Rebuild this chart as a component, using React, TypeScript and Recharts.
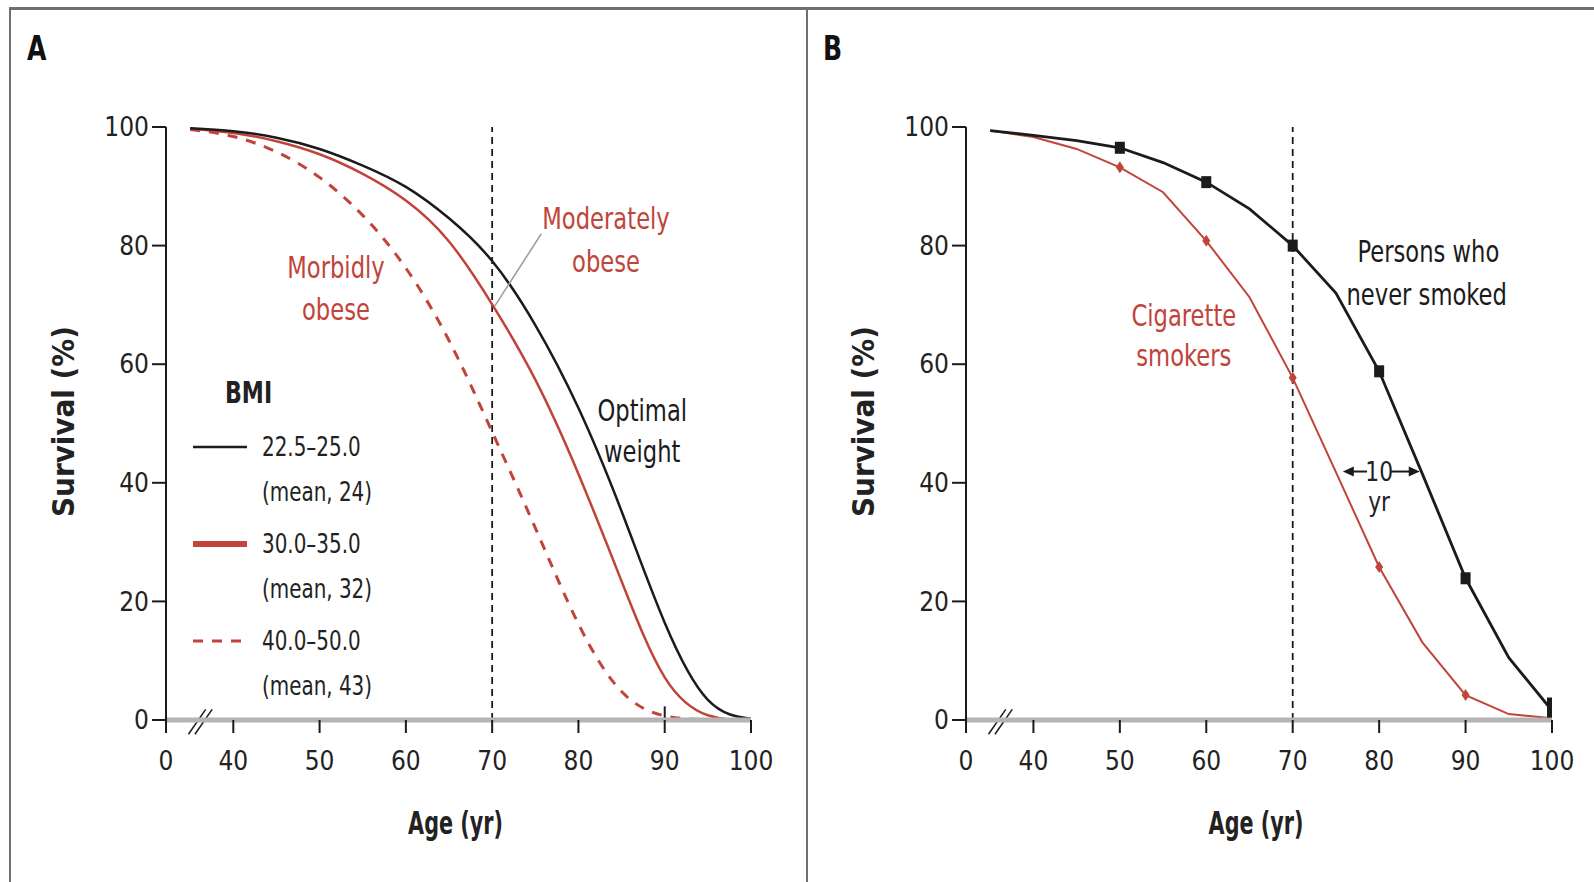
import React from "react";
import {
  LineChart,
  Line,
  XAxis,
  YAxis,
  ReferenceLine,
  ReferenceDot,
  Legend,
} from "recharts";

const FONT = '"Liberation Sans Narrow", "DejaVu Sans Condensed", "Liberation Sans", sans-serif';
const INK = "#1b1b1b";
const RED = "#c1443a";
const FRAME = "#707070";

const ages = [35, 40, 45, 50, 55, 60, 65, 70, 75, 80, 85, 90, 95, 100];

// panel A: survival (%) by BMI group
const optimalBmi = [99.8, 99.3, 98.2, 96.3, 93.5, 89.9, 84.6, 77.4, 66.6, 52.6, 35.2, 16.4, 3.4, 0.2];
const moderateBmi = [99.7, 99.0, 97.6, 95.4, 92.1, 87.6, 80.7, 70.1, 57.4, 41.5, 23.4, 7.2, 0.8, 0];
const morbidBmi = [99.6, 98.4, 95.8, 91.5, 85.1, 76.2, 64.0, 48.6, 32.4, 16.2, 4.8, 0.7, 0.1, 0];

// panel B: survival (%) by smoking status
const neverSmoked = [99.4, 98.6, 97.7, 96.5, 94.0, 90.7, 86.2, 80.0, 72.0, 58.8, 41.5, 23.9, 10.5, 1.6];
const smokers = [99.4, 98.3, 96.3, 93.2, 89.0, 80.8, 71.3, 57.7, 41.8, 25.8, 13.1, 4.2, 1.0, 0.3];
const neverMarked = [50, 60, 70, 80, 90, 100];
const smokerMarked = [50, 60, 70, 80, 90];

const ageTicks = [40, 50, 60, 70, 80, 90, 100];
const survivalTicks = [0, 20, 40, 60, 80, 100];
const axisBreak = 32.2; // the axis is broken; this point is labelled "0"

const bmiRanges = ["22.5–25.0", "30.0–35.0", "40.0–50.0"];
const bmiMeans = ["(mean, 24)", "(mean, 32)", "(mean, 43)"];
const bmiStyles = [
  { color: INK, width: 2.5, dash: undefined },
  { color: RED, width: 6, dash: undefined },
  { color: RED, width: 3, dash: "10 9" },
];

const tickStyle = { fill: "#222", fontSize: 26, fontFamily: FONT };

function yTitle(props: any) {
  const { x, y, height } = props.viewBox;
  const cx = x - 43;
  const cy = y + height / 2 - 2;
  return (
    <text
      x={cx}
      y={cy}
      transform={`rotate(-90, ${cx}, ${cy})`}
      textAnchor="middle"
      dominantBaseline="central"
      fontFamily={FONT}
      fontWeight="bold"
      fontSize={31}
      fill="#222"
    >
      Survival (%)
    </text>
  );
}

function xTitle(props: any) {
  const { x, y, width } = props.viewBox;
  const cx = x + width / 2 - 3;
  const cy = y + 103;
  return (
    <text
      transform={`translate(${cx}, ${cy}) scale(0.72, 1)`}
      textAnchor="middle"
      dominantBaseline="central"
      fontFamily={FONT}
      fontWeight="bold"
      fontSize={32}
      fill="#222"
    >
      Age (yr)
    </text>
  );
}

function note(key: string, x: number, y: number, text: string, color: string, size = 30, squeeze = 0.84) {
  const content = (p: any) => {
    const vb = p.viewBox;
    const cx = vb.x + vb.width / 2;
    const cy = vb.y + vb.height / 2;
    return (
      <text
        transform={`translate(${cx}, ${cy}) scale(${squeeze}, 1)`}
        textAnchor="middle"
        dominantBaseline="central"
        fill={color}
        fontSize={size}
        fontFamily={FONT}
      >
        {text}
      </text>
    );
  };
  return <ReferenceDot key={key} x={x} y={y} r={0} fill="none" stroke="none" label={content} />;
}

function arrowShape(p: any) {
  const { x1, y1, x2, y2 } = p;
  const dir = Math.sign(x2 - x1);
  return (
    <g>
      <line x1={x1} y1={y1} x2={x2 - dir * 6} y2={y2} stroke={INK} strokeWidth={2} />
      <path d={`M${x2},${y2} L${x2 - dir * 11},${y2 - 5} L${x2 - dir * 11},${y2 + 5} Z`} fill={INK} />
    </g>
  );
}

function squareDot(props: any) {
  const { cx, cy, payload } = props;
  const k = `sq-${payload.age}`;
  if (!neverMarked.includes(payload.age)) return <g key={k} />;
  if (payload.age === 100) {
    return <rect key={k} x={cx - 5} y={cy - 13} width={10} height={20} fill={INK} />;
  }
  return <rect key={k} x={cx - 5} y={cy - 6} width={10} height={12} fill={INK} />;
}

function diamondDot(props: any) {
  const { cx, cy, payload } = props;
  const k = `dm-${payload.age}`;
  if (!smokerMarked.includes(payload.age)) return <g key={k} />;
  return <path key={k} d={`M${cx},${cy - 6} L${cx + 4},${cy} L${cx},${cy + 6} L${cx - 4},${cy} Z`} fill={RED} />;
}

const squeezed = {
  display: "inline-block",
  transform: "scaleX(0.82)",
  transformOrigin: "left center",
  whiteSpace: "nowrap" as const,
};

function BmiLegend() {
  return (
    <div style={{ fontFamily: FONT, fontSize: 27, color: "#222", width: 220 }}>
      <div style={{ fontWeight: "bold", fontSize: 30, lineHeight: "45px", paddingLeft: 32, marginBottom: 9 }}>
        <span style={squeezed}>BMI</span>
      </div>
      {bmiRanges.map((r, i) => (
        <div key={r} style={{ display: "flex", marginBottom: 7 }}>
          <svg width={69} height={45} style={{ flex: "none" }}>
            <line
              x1={0}
              x2={54}
              y1={23}
              y2={23}
              stroke={bmiStyles[i].color}
              strokeWidth={bmiStyles[i].width}
              strokeDasharray={bmiStyles[i].dash}
            />
          </svg>
          <div style={{ lineHeight: "45px" }}>
            <div><span style={squeezed}>{r}</span></div>
            <div><span style={squeezed}>{bmiMeans[i]}</span></div>
          </div>
        </div>
      ))}
    </div>
  );
}

function ageAxis() {
  return (
    <XAxis
      dataKey="age"
      type="number"
      domain={[axisBreak, 100]}
      ticks={[axisBreak, ...ageTicks]}
      tickFormatter={(v: number) => (v === axisBreak ? "0" : String(v))}
      allowDataOverflow
      axisLine={{ stroke: "#b4b4b4", strokeWidth: 5 }}
      tickLine={{ stroke: INK, strokeWidth: 2 }}
      tickSize={13}
      tickMargin={19}
      tick={tickStyle}
      height={120}
      label={xTitle}
    />
  );
}

function survivalAxis() {
  return (
    <YAxis
      type="number"
      domain={[0, 100]}
      ticks={survivalTicks}
      width={60}
      axisLine={{ stroke: INK, strokeWidth: 2 }}
      tickLine={{ stroke: INK, strokeWidth: 2 }}
      tickSize={14}
      tickMargin={3}
      tick={tickStyle}
      label={yTitle}
    />
  );
}

function breakMarks(prefix: string) {
  return [0, 0.75].map((d) => (
    <ReferenceLine
      key={`${prefix}-${d}`}
      segment={[
        { x: 34.8 + d, y: -2.4 },
        { x: 36.8 + d, y: 1.8 },
      ]}
      ifOverflow="visible"
      stroke={INK}
      strokeWidth={1.5}
    />
  ));
}

export default function App() {
  const bmiRows = ages.map((age, i) => ({
    age,
    optimal: optimalBmi[i],
    moderate: moderateBmi[i],
    morbid: morbidBmi[i],
  }));
  const smokeRows = ages.map((age, i) => ({ age, never: neverSmoked[i], smokers: smokers[i] }));
  const margin = { top: 127, bottom: 42, left: 106 };

  return (
    <div style={{ position: "absolute", left: 0, top: 0, width: 1594, height: 882, background: "#fff", overflow: "hidden" }}>
      <style>{"body{margin:0}"}</style>
      <div style={{ position: "absolute", left: 9, top: 7, width: 1600, height: 900, borderTop: `3px solid ${FRAME}`, borderLeft: `2px solid ${FRAME}` }} />
      <div style={{ position: "absolute", left: 806, top: 8, height: 900, borderLeft: `2px solid ${FRAME}` }} />
      <div style={{ position: "absolute", left: 27, top: 28, fontFamily: FONT, fontWeight: "bold", fontSize: 34, color: "#111" }}>
        <span style={squeezed}>A</span>
      </div>
      <div style={{ position: "absolute", left: 823, top: 28, fontFamily: FONT, fontWeight: "bold", fontSize: 34, color: "#111" }}>
        <span style={squeezed}>B</span>
      </div>

      <div style={{ position: "absolute", left: 0, top: 0 }}>
        <LineChart width={800} height={882} data={bmiRows} margin={{ ...margin, right: 49 }}>
          {ageAxis()}
          {survivalAxis()}
          <Legend
            layout="vertical"
            align="center"
            verticalAlign="middle"
            content={() => <BmiLegend />}
            wrapperStyle={{ position: "absolute", left: 193, top: 370, width: 240 }}
          />
          <ReferenceLine x={70} stroke={INK} strokeWidth={1.8} strokeDasharray="7 5" />
          <Line dataKey="morbid" type="natural" stroke={RED} strokeWidth={3} strokeDasharray="10 9" dot={false} isAnimationActive={false} />
          <Line dataKey="moderate" type="natural" stroke={RED} strokeWidth={2.5} dot={false} isAnimationActive={false} />
          <Line dataKey="optimal" type="natural" stroke={INK} strokeWidth={2.5} dot={false} isAnimationActive={false} />
          <ReferenceLine segment={[{ x: 70.3, y: 69.8 }, { x: 75.7, y: 82 }]} stroke="#9c9c9c" strokeWidth={1.5} />
          <ReferenceLine segment={[{ x: 90, y: 0 }, { x: 90, y: 2.3 }]} stroke={INK} strokeWidth={2} />
          {breakMarks("a")}
          {note("mod1", 83.2, 84.5, "Moderately", RED)}
          {note("mod2", 83.2, 77.3, "obese", RED)}
          {note("mor1", 51.9, 76.3, "Morbidly", RED)}
          {note("mor2", 51.9, 69.2, "obese", RED)}
          {note("opt1", 87.4, 52.2, "Optimal", INK)}
          {note("opt2", 87.4, 45.2, "weight", INK)}
        </LineChart>
      </div>

      <div style={{ position: "absolute", left: 800, top: 0 }}>
        <LineChart width={794} height={882} data={smokeRows} margin={{ ...margin, right: 42 }}>
          {ageAxis()}
          {survivalAxis()}
          <ReferenceLine x={70} stroke={INK} strokeWidth={1.8} strokeDasharray="7 5" />
          <Line dataKey="smokers" type="linear" stroke={RED} strokeWidth={2} dot={diamondDot} isAnimationActive={false} />
          <Line dataKey="never" type="linear" stroke={INK} strokeWidth={2.8} dot={squareDot} isAnimationActive={false} />
          {breakMarks("b")}
          <ReferenceLine segment={[{ x: 78.6, y: 41.9 }, { x: 75.8, y: 41.9 }]} shape={arrowShape} />
          <ReferenceLine segment={[{ x: 81.4, y: 41.9 }, { x: 84.7, y: 41.9 }]} shape={arrowShape} />
          {note("ten", 80, 41.9, "10", "#222", 27, 0.9)}
          {note("yr", 80, 36.8, "yr", "#222", 27, 0.9)}
          {note("per1", 85.7, 78.9, "Persons who", INK)}
          {note("per2", 85.5, 71.8, "never smoked", INK)}
          {note("cig1", 57.4, 68.2, "Cigarette", RED)}
          {note("cig2", 57.4, 61.4, "smokers", RED)}
        </LineChart>
      </div>
    </div>
  );
}
